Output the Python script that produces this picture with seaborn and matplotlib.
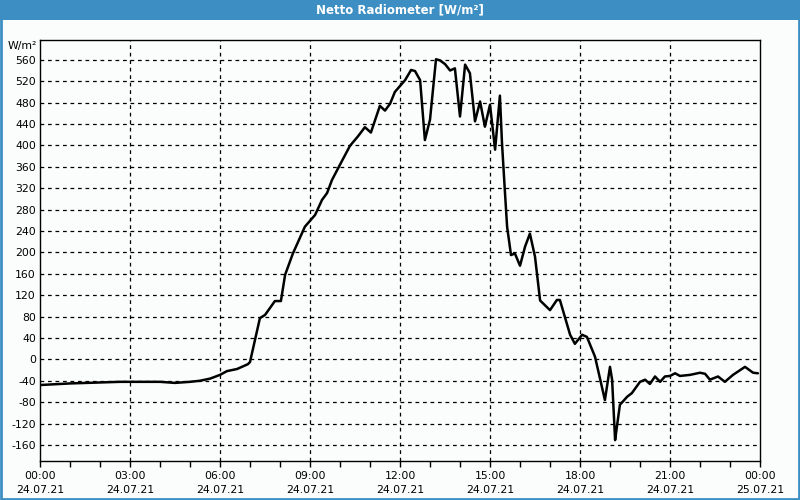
import matplotlib
matplotlib.use("Agg")
import matplotlib.pyplot as plt
import seaborn as sns
import pandas as pd
from matplotlib.patches import Rectangle

# time of day in hours (24.07.21 00:00 = 0)
hours = [0.0, 1.0, 2.67, 4.0, 4.5, 5.0, 5.33, 5.67, 6.0, 6.23, 6.57, 6.93, 7.0,
         7.33, 7.5, 7.83, 8.03, 8.17, 8.43, 8.83, 9.17, 9.4, 9.57, 9.73, 10.0,
         10.33, 10.6, 10.83, 11.03, 11.33, 11.5, 11.67, 11.83, 12.17, 12.37, 12.5,
         12.67, 12.83, 13.0, 13.2, 13.33, 13.5, 13.67, 13.83, 14.0, 14.17, 14.33,
         14.5, 14.67, 14.83, 15.0, 15.17, 15.33, 15.4, 15.5, 15.57, 15.7, 15.83,
         16.0, 16.17, 16.33, 16.5, 16.67, 17.0, 17.23, 17.33, 17.67, 17.83, 18.07,
         18.23, 18.5, 18.83, 19.0, 19.07, 19.17, 19.23, 19.33, 19.57, 19.73, 20.0,
         20.17, 20.33, 20.5, 20.67, 20.83, 21.0, 21.17, 21.33, 21.67, 22.0, 22.17,
         22.33, 22.6, 22.83, 23.1, 23.5, 23.77, 23.93]
values = [-48, -45, -42, -42, -44, -42, -40, -36, -29, -22, -18, -9, -5,
          77, 83, 109, 109, 158, 198, 248, 270, 298, 311, 335, 364,
          399, 417, 434, 424, 474, 465, 478, 500, 522, 541, 539,
          522, 410, 448, 561, 559, 552, 540, 544, 454, 551, 535,
          445, 482, 435, 476, 392, 493, 404, 311, 248, 195, 198,
          175, 211, 235, 192, 110, 92, 111, 111, 46, 29, 46,
          42, 5, -76, -14, -38, -151, -126, -85, -70, -63, -42,
          -38, -46, -32, -42, -32, -31, -26, -31, -29, -25, -27,
          -38, -32, -42, -29, -14, -25, -26]

title = "Netto Radiometer [W/m²]"
unit = "W/m²"
xtick_hours = [0, 3, 6, 9, 12, 15, 18, 21, 24]
xtick_labels = ["00:00\n24.07.21", "03:00\n24.07.21", "06:00\n24.07.21",
                "09:00\n24.07.21", "12:00\n24.07.21", "15:00\n24.07.21",
                "18:00\n24.07.21", "21:00\n24.07.21", "00:00\n25.07.21"]
yticks = list(range(-160, 561, 40))

sns.set_style("white")
plt.rcParams["font.family"] = ["DejaVu Sans"]
plt.rcParams["text.color"] = "black"
plt.rcParams["xtick.color"] = "black"
plt.rcParams["ytick.color"] = "black"

bg = "#fafdfb"
blue = "#3d8fc3"
fig = plt.figure(figsize=(8, 5), dpi=100, facecolor=bg)
ax = fig.add_axes([0.05, 0.078, 0.9, 0.842])
ax.set_facecolor(bg)

df = pd.DataFrame({"hour": hours, "value": values})
sns.lineplot(data=df, x="hour", y="value", ax=ax, color="black", lw=1.8, estimator=None)

ax.set_xlim(0, 24)
ax.set_ylim(-190, 597)
ax.set_yticks(yticks)
ax.set_yticklabels([str(v) for v in yticks], fontsize=7.8)
ax.set_xticks(xtick_hours)
ax.set_xticklabels(xtick_labels, fontsize=7.8, linespacing=1.55)
ax.set_xticks(range(0, 25), minor=True)
ax.tick_params(axis="y", length=0, pad=3, labelcolor="black")
ax.tick_params(axis="x", which="both", length=4, width=1, direction="out",
               bottom=True, pad=3, color="black", labelcolor="black")
ax.set_xlabel("")
ax.set_ylabel("")

for y in yticks:
    ax.axhline(y, color="black", lw=0.9, ls=(0, (3, 3)), zorder=0)
for h in xtick_hours[1:-1]:
    ax.axvline(h, color="black", lw=0.9, ls=(0, (3, 3)), zorder=0)

for s in ax.spines.values():
    s.set_color("black")
    s.set_linewidth(1)

# title bar and frame
fig.patches.append(Rectangle((0, 1 - 20 / 500), 1, 20 / 500, transform=fig.transFigure,
                             facecolor=blue, edgecolor="none", zorder=0))
fig.patches.append(Rectangle((0.001, 0.002), 0.998, 0.997, transform=fig.transFigure,
                             facecolor="none", edgecolor=blue, lw=2, zorder=1))
fig.text(0.5, 1 - 10 / 500, title, color="white", fontsize=8.5, fontweight="bold",
         ha="center", va="center")
fig.text(37 / 800, 1 - 46 / 500, unit, fontsize=7.8, ha="right", va="center")

fig.savefig("out.png", dpi=100, facecolor=bg)
